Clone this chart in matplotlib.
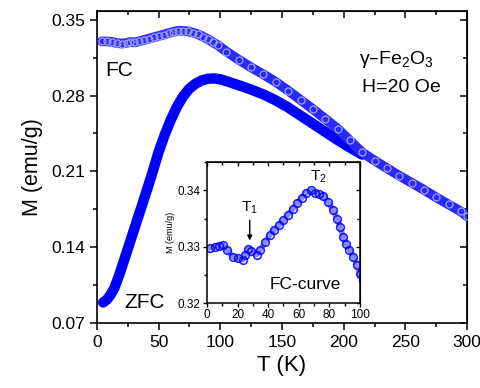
import matplotlib
matplotlib.use("Agg")
import matplotlib.pyplot as plt
from matplotlib.ticker import MultipleLocator

plt.rcParams['font.family'] = ['Liberation Sans', 'DejaVu Sans']

# ---------------- data ----------------
fc_T = [4, 8, 12, 16, 20, 24, 27, 30, 34, 38, 42, 46, 50, 54, 58, 62, 66, 70, 74,
        78, 82, 86, 90, 94, 98, 105, 115, 125, 135, 145, 155, 165, 175, 185, 195,
        205, 215, 225, 235, 245, 255, 265, 275, 285, 295, 300]
fc_M = [0.3300, 0.3300, 0.3295, 0.3285, 0.3280, 0.3285, 0.3295, 0.3290, 0.3300,
        0.3312, 0.3325, 0.3338, 0.3350, 0.3362, 0.3376, 0.3388, 0.3398, 0.3397,
        0.3392, 0.3380, 0.3365, 0.3343, 0.3320, 0.3292, 0.3265, 0.3205, 0.3130,
        0.3060, 0.2995, 0.2925, 0.2845, 0.2760, 0.2675, 0.2585, 0.2495, 0.2385,
        0.2275, 0.2200, 0.2130, 0.2060, 0.1995, 0.1930, 0.1860, 0.1795, 0.1730,
        0.1685]

zfc_T = [5, 8, 11, 14, 17, 20, 24, 28, 32, 36, 40, 45, 50, 55, 60, 65, 70, 75, 80,
         85, 90, 95, 100, 107, 115, 125, 135, 145, 155, 165, 175, 185, 195, 205, 215]
zfc_M = [0.0890, 0.0915, 0.0960, 0.1020, 0.1110, 0.1210, 0.1350, 0.1490, 0.1630,
         0.1770, 0.1910, 0.2090, 0.2280, 0.2440, 0.2580, 0.2700, 0.2795, 0.2865,
         0.2910, 0.2940, 0.2955, 0.2958, 0.2950, 0.2925, 0.2895, 0.2855, 0.2810,
         0.2755, 0.2690, 0.2615, 0.2540, 0.2465, 0.2390, 0.2320, 0.2255]

ins_T = [2, 5, 8, 10.5, 13, 17, 20, 23.5, 25, 27, 29, 32.5, 35, 38, 41, 44, 47, 50,
         53, 56, 59, 62, 65, 68, 70.6, 73, 76, 79, 82.5, 85, 87, 89, 91, 93, 95.6,
         98, 100, 102]
ins_M = [0.3298, 0.3300, 0.3302, 0.3303, 0.3295, 0.3282, 0.3280, 0.3277, 0.3285,
         0.3296, 0.3292, 0.3286, 0.3295, 0.3308, 0.3321, 0.3330, 0.3338, 0.3347,
         0.3357, 0.3367, 0.3377, 0.3387, 0.3396, 0.3400, 0.3395, 0.3393, 0.3390,
         0.3380, 0.3365, 0.3350, 0.3335, 0.3318, 0.3305, 0.3295, 0.3282, 0.3268,
         0.3251, 0.3240]

x_ticks = [0, 50, 100, 150, 200, 250, 300]
y_ticks = [0.07, 0.14, 0.21, 0.28, 0.35]
y_tick_labels = ['0.07', '0.14', '0.21', '0.28', '0.35']
ins_x_ticks = [0, 20, 40, 60, 80, 100]
ins_y_ticks = [0.32, 0.33, 0.34]
ins_y_tick_labels = ['0.32', '0.33', '0.34']

BLUE = '#0000ff'

fig = plt.figure(figsize=(4.8, 3.88), dpi=100)
ax = fig.add_axes([0.202, 0.1675, 0.771, 0.804])

# ZFC: filled dense band
ax.plot(zfc_T, zfc_M, '-', color=BLUE, lw=7.5, solid_capstyle='round',
        solid_joinstyle='round', zorder=2)
# FC: open circles band
ax.plot(fc_T, fc_M, '-', color='#2a2aff', lw=7, solid_capstyle='round',
        solid_joinstyle='round', zorder=3)
ax.plot(fc_T, fc_M, 'o', mfc='none', mec='#a0a0ff', ms=5, mew=0.9, zorder=4)

ax.set_xlim(0, 300)
ax.set_ylim(0.07, 0.358)
ax.set_xticks(x_ticks)
ax.set_yticks(y_ticks)
ax.set_yticklabels(y_tick_labels)
ax.xaxis.set_minor_locator(MultipleLocator(25))
ax.yaxis.set_minor_locator(MultipleLocator(0.035))
ax.tick_params(which='both', direction='out', labelsize=12.5, width=1.1, top=False, right=False)
ax.tick_params(which='major', length=5)
ax.tick_params(which='minor', length=3)
for s in ax.spines.values():
    s.set_linewidth(1.2)

secx = ax.secondary_xaxis('top')
secx.set_xticks(x_ticks)
secx.xaxis.set_minor_locator(MultipleLocator(25))
secx.tick_params(which='both', direction='in', labeltop=False, width=1.1)
secx.tick_params(which='major', length=5)
secx.tick_params(which='minor', length=3)
secy = ax.secondary_yaxis('right')
secy.set_yticks(y_ticks)
secy.yaxis.set_minor_locator(MultipleLocator(0.035))
secy.tick_params(which='both', direction='in', labelright=False, width=1.1)
secy.tick_params(which='major', length=5)
secy.tick_params(which='minor', length=3)

ax.set_xlabel('T (K)', fontsize=16, labelpad=4)
ax.set_ylabel('M (emu/g)', fontsize=15.5, labelpad=6)

ax.text(18, 0.3033, 'FC', fontsize=15, ha='center', va='center')
ax.text(39, 0.0885, 'ZFC', fontsize=15, ha='center', va='center')
ax.text(243, 0.3134, r'$\mathregular{\gamma}$–Fe$_\mathregular{2}$O$_\mathregular{3}$', fontsize=14,
        ha='center', va='center')
ax.text(247, 0.2878, 'H=20 Oe', fontsize=14, ha='center', va='center')

# ---------------- inset ----------------
ins = fig.add_axes([0.431, 0.219, 0.319, 0.363])
ins.plot(ins_T, ins_M, '-', color='#6a6aff', lw=4, solid_capstyle='round', alpha=0.8)
ins.plot(ins_T, ins_M, 'o', mfc='none', mec=BLUE, ms=5.5, mew=1.2, alpha=0.85)
ins.set_xlim(0, 100)
ins.set_ylim(0.32, 0.345)
ins.set_xticks(ins_x_ticks)
ins.set_yticks(ins_y_ticks)
ins.set_yticklabels(ins_y_tick_labels)
ins.xaxis.set_minor_locator(MultipleLocator(10))
ins.yaxis.set_minor_locator(MultipleLocator(0.005))
ins.tick_params(which='both', direction='out', labelsize=8.5, width=1.0, top=False, right=False, pad=1.5)
ins.tick_params(which='major', length=3)
ins.tick_params(which='minor', length=2)
for s in ins.spines.values():
    s.set_linewidth(1.1)
isx = ins.secondary_xaxis('top')
isx.set_xticks(ins_x_ticks)
isx.xaxis.set_minor_locator(MultipleLocator(10))
isx.tick_params(which='both', direction='in', labeltop=False, width=1.0)
isx.tick_params(which='major', length=3)
isx.tick_params(which='minor', length=2)
isy = ins.secondary_yaxis('right')
isy.set_yticks(ins_y_ticks)
isy.yaxis.set_minor_locator(MultipleLocator(0.005))
isy.tick_params(which='both', direction='in', labelright=False, width=1.0)
isy.tick_params(which='major', length=3)
isy.tick_params(which='minor', length=2)
ins.set_ylabel('M (emu/g)', fontsize=6.5, labelpad=2)

ins.annotate('', xy=(28, 0.3306), xytext=(28, 0.3352),
             arrowprops=dict(arrowstyle='-|>', color='black', lw=1.0, mutation_scale=7))
ins.text(28, 0.3370, r'T$_\mathregular{1}$', fontsize=11, ha='center', va='center')
ins.text(73, 0.3425, r'T$_\mathregular{2}$', fontsize=11, ha='center', va='center')
ins.text(64, 0.3232, 'FC-curve', fontsize=12.5, ha='center', va='center')

fig.savefig('out.png', dpi=100)
